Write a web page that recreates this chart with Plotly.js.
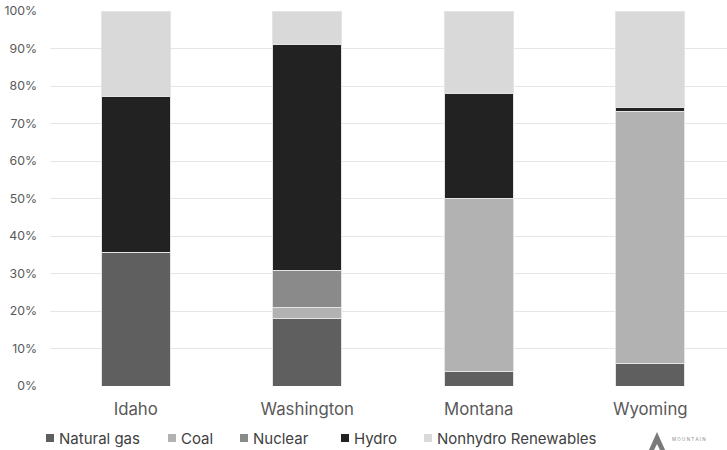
<!DOCTYPE html>
<html>
<head>
<meta charset="utf-8">
<script src="https://cdn.plot.ly/plotly-3.0.1.min.js"></script>
<style>html,body{margin:0;padding:0;background:#fff;}#chart{width:727px;height:450px;}</style>
</head>
<body>
<div id="chart"></div>
<script>
const categories = ['Idaho', 'Washington', 'Montana', 'Wyoming'];
const seriesNames = ['Natural gas', 'Coal', 'Nuclear', 'Hydro', 'Nonhydro Renewables'];
const naturalGas = [35.7, 18.0, 3.8, 6.0];
const coal = [null, 2.9, 46.2, 67.1];
const nuclear = [null, 10.0, null, null];
const hydro = [41.5, 60.1, 28.0, 1.1];
const nonhydro = [22.8, 9.0, 22.0, 25.8];
const yTickVals = [0, 10, 20, 30, 40, 50, 60, 70, 80, 90, 100];
const yTickText = ['0%', '10%', '20%', '30%', '40%', '50%', '60%', '70%', '80%', '90%', '100%'];

const colors = ['#5f5f5f', '#b2b2b2', '#8a8a8a', '#222222', '#d9d9d9'];
const seriesValues = [naturalGas, coal, nuclear, hydro, nonhydro];

const FONT = 'Inter, "Open Sans", sans-serif';
const W = 727, H = 450, ML = 50, MR = 0, MT = 11, MB = 64;
const PW = W - ML - MR, PH = H - MT - MB;
const px2x = p => (p - ML) / PW;
const py2y = p => (H - MB - p) / PH;

const traces = seriesNames.map((name, i) => ({
  type: 'bar',
  name: name,
  x: categories,
  y: seriesValues[i],
  marker: { color: colors[i], line: { color: '#e4e4e4', width: 1 } },
  showlegend: false,
  hoverinfo: 'x+y+name'
}));

// custom legend (square swatch + label)
const legendSwatchX = [46, 168, 240, 341, 424];
const legendY = 438;
const shapes = [];
const annotations = [];
seriesNames.forEach((name, i) => {
  const x0 = legendSwatchX[i];
  shapes.push({
    type: 'rect', xref: 'paper', yref: 'paper',
    x0: px2x(x0), x1: px2x(x0 + 8),
    y0: py2y(legendY + 4), y1: py2y(legendY - 4),
    fillcolor: colors[i], line: { width: 0 }
  });
  annotations.push({
    xref: 'paper', yref: 'paper', x: px2x(x0 + 11), y: py2y(legendY),
    xanchor: 'left', yanchor: 'middle', showarrow: false,
    text: name, font: { family: FONT, size: 15, color: '#404040' }
  });
});

// partial logo at bottom right
shapes.push({
  type: 'path', xref: 'paper', yref: 'paper',
  path: 'M ' + px2x(648) + ' ' + py2y(452) + ' L ' + px2x(657) + ' ' + py2y(432) +
        ' L ' + px2x(666) + ' ' + py2y(452) + ' L ' + px2x(661) + ' ' + py2y(452) +
        ' L ' + px2x(657) + ' ' + py2y(444) + ' L ' + px2x(653) + ' ' + py2y(452) + ' Z',
  fillcolor: '#7a7a7a', line: { width: 0 }
});
annotations.push({
  xref: 'paper', yref: 'paper', x: px2x(670), y: py2y(440),
  xanchor: 'left', yanchor: 'middle', showarrow: false,
  text: 'M O U N T A I N', font: { family: FONT, size: 4.5, color: '#8a8a8a' }
});

const layout = {
  width: W, height: H,
  margin: { l: ML, r: MR, t: MT, b: MB, pad: 0 },
  paper_bgcolor: '#ffffff', plot_bgcolor: '#ffffff',
  barmode: 'stack',
  bargap: 0.598,
  showlegend: false,
  font: { family: FONT, color: '#595959' },
  xaxis: {
    type: 'category',
    range: [-0.5, -0.5 + PW / 171.5],
    showgrid: false, zeroline: false, showline: false,
    ticks: '', ticklabelstandoff: 11,
    tickfont: { family: FONT, size: 16.8, color: '#595959' },
    fixedrange: true
  },
  yaxis: {
    range: [0, 100],
    tickvals: yTickVals, ticktext: yTickText,
    showgrid: true, gridcolor: '#e6e6e6', gridwidth: 1,
    zeroline: false, showline: false,
    ticks: '', ticklabelstandoff: 12,
    tickfont: { family: FONT, size: 12.3, color: '#595959' },
    fixedrange: true
  },
  shapes: shapes,
  annotations: annotations
};

Plotly.newPlot('chart', traces, layout, { displayModeBar: false, staticPlot: true });
</script>
</body>
</html>
